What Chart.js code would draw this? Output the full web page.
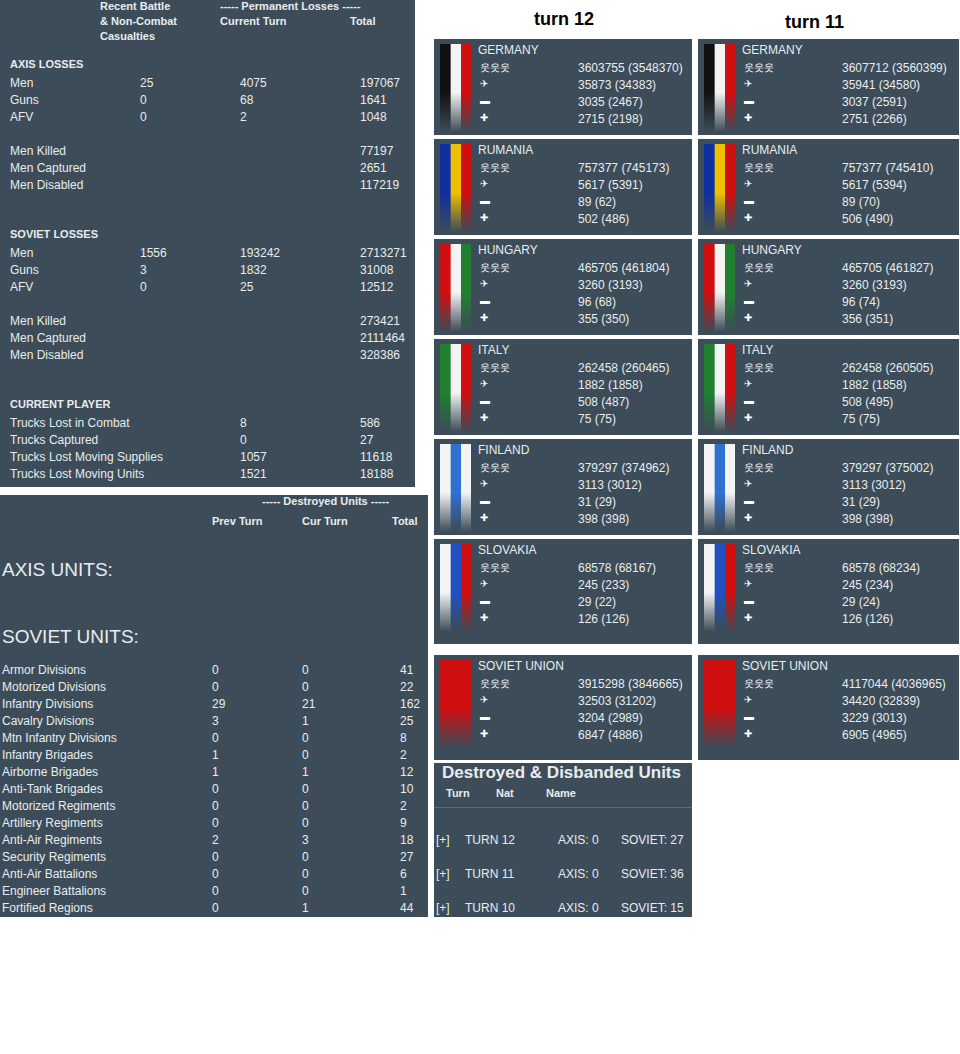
<!DOCTYPE html><html><head><meta charset="utf-8">
<script src="https://cdn.jsdelivr.net/npm/chart.js@4.4.0/dist/chart.umd.min.js"></script>
<style>
body{margin:0;width:960px;height:1054px;background:#fff;font-family:"Liberation Sans",Arial,sans-serif;position:relative;overflow:hidden}
.p{position:absolute;background:#3c4c58;color:#e8ecef;font-size:12px}
.t{position:absolute;white-space:nowrap}
.h{font-weight:bold;font-size:11px;color:#e8ecef}
.title{position:absolute;font-weight:bold;font-size:18px;color:#000}
.flag{position:absolute;width:31px;height:88px;-webkit-mask-image:linear-gradient(#000 55%,transparent);mask-image:linear-gradient(#000 55%,transparent)}
.ic{position:absolute;color:#fff}
</style></head><body>
<script>
const axisRows=[["Men",25,4075,197067],["Guns",0,68,1641],["AFV",0,2,1048]];
const axisCas=[["Men Killed",77197],["Men Captured",2651],["Men Disabled",117219]];
const sovRows=[["Men",1556,193242,2713271],["Guns",3,1832,31008],["AFV",0,25,12512]];
const sovCas=[["Men Killed",273421],["Men Captured",2111464],["Men Disabled",328386]];
const trucks=[["Trucks Lost in Combat",8,586],["Trucks Captured",0,27],["Trucks Lost Moving Supplies",1057,11618],["Trucks Lost Moving Units",1521,18188]];
const unitTypes=["Armor Divisions","Motorized Divisions","Infantry Divisions","Cavalry Divisions","Mtn Infantry Divisions","Infantry Brigades","Airborne Brigades","Anti-Tank Brigades","Motorized Regiments","Artillery Regiments","Anti-Air Regiments","Security Regiments","Anti-Air Battalions","Engineer Battalions","Fortified Regions"];
const unitPrev=[0,0,29,3,0,1,1,0,0,0,2,0,0,0,0];
const unitCur=[0,0,21,1,0,0,1,0,0,0,3,0,0,0,1];
const unitTotal=[41,22,162,25,8,2,12,10,2,9,18,27,6,1,44];
const nations=["GERMANY","RUMANIA","HUNGARY","ITALY","FINLAND","SLOVAKIA","SOVIET UNION"];
const flagColors=[["#111","#f4f4f4","#d01010"],["#1030a0","#f0c000","#d01010"],["#d01010","#f4f4f4","#208030"],["#208030","#f4f4f4","#d01010"],["#f4f4f4","#3070d0","#f4f4f4"],["#f4f4f4","#2050c0","#d01010"],["#d01010","#d01010","#d01010"]];
const turn12=[["3603755 (3548370)","35873 (34383)","3035 (2467)","2715 (2198)"],["757377 (745173)","5617 (5391)","89 (62)","502 (486)"],["465705 (461804)","3260 (3193)","96 (68)","355 (350)"],["262458 (260465)","1882 (1858)","508 (487)","75 (75)"],["379297 (374962)","3113 (3012)","31 (29)","398 (398)"],["68578 (68167)","245 (233)","29 (22)","126 (126)"],["3915298 (3846665)","32503 (31202)","3204 (2989)","6847 (4886)"]];
const turn11=[["3607712 (3560399)","35941 (34580)","3037 (2591)","2751 (2266)"],["757377 (745410)","5617 (5394)","89 (70)","506 (490)"],["465705 (461827)","3260 (3193)","96 (74)","356 (351)"],["262458 (260505)","1882 (1858)","508 (495)","75 (75)"],["379297 (375002)","3113 (3012)","31 (29)","398 (398)"],["68578 (68234)","245 (234)","29 (24)","126 (126)"],["4117044 (4036965)","34420 (32839)","3229 (3013)","6905 (4965)"]];
const disbTurns=["TURN 12","TURN 11","TURN 10"],disbAxis=[0,0,0],disbSov=[27,36,15];

function el(parent,cls,x,y,txt,extra){const d=document.createElement('div');d.className=cls;d.style.left=x+'px';d.style.top=y+'px';if(txt!==undefined)d.textContent=txt;if(extra)Object.assign(d.style,extra);parent.appendChild(d);return d;}
function panel(x,y,w,h){return el(document.body,'p',x,y,undefined,{width:w+'px',height:h+'px'});}
let P=panel(0,0,415,487);
el(P,'t h',100,0,"Recent Battle");el(P,'t h',100,15,"& Non-Combat");el(P,'t h',100,30,"Casualties");
el(P,'t h',220,0,"----- Permanent Losses -----");el(P,'t h',220,15,"Current Turn");el(P,'t h',350,15,"Total");
el(P,'t h',10,58,"AXIS LOSSES");
axisRows.forEach((r,i)=>{let y=76+i*17;el(P,'t',10,y,r[0]);el(P,'t',140,y,r[1]);el(P,'t',240,y,r[2]);el(P,'t',360,y,r[3]);});
axisCas.forEach((r,i)=>{let y=144+i*17;el(P,'t',10,y,r[0]);el(P,'t',360,y,r[1]);});
el(P,'t h',10,228,"SOVIET LOSSES");
sovRows.forEach((r,i)=>{let y=246+i*17;el(P,'t',10,y,r[0]);el(P,'t',140,y,r[1]);el(P,'t',240,y,r[2]);el(P,'t',360,y,r[3]);});
sovCas.forEach((r,i)=>{let y=314+i*17;el(P,'t',10,y,r[0]);el(P,'t',360,y,r[1]);});
el(P,'t h',10,398,"CURRENT PLAYER");
trucks.forEach((r,i)=>{let y=416+i*17;el(P,'t',10,y,r[0]);el(P,'t',240,y,r[1]);el(P,'t',360,y,r[2]);});
P=panel(0,495,428,422);
el(P,'t h',262,0,"----- Destroyed Units -----");
el(P,'t h',212,20,"Prev Turn");el(P,'t h',302,20,"Cur Turn");el(P,'t h',392,20,"Total");
el(P,'t',2,64,"AXIS UNITS:",{fontSize:'19px'});el(P,'t',2,131,"SOVIET UNITS:",{fontSize:'19px'});
unitTypes.forEach((u,i)=>{let y=168+i*17;el(P,'t',2,y,u);el(P,'t',212,y,unitPrev[i]);el(P,'t',302,y,unitCur[i]);el(P,'t',400,y,unitTotal[i]);});
el(document.body,'title',534,9,"turn 12");el(document.body,'title',785,12,"turn 11");
function col(x,w,data){
  nations.forEach((n,i)=>{
    let y=i<6?39+i*100:655;let h=i>=5?105:96;
    let q=panel(x,y,w,h);
    let fd=el(q,'flag',6,5);
    let cv=document.createElement('canvas');cv.width=31;cv.height=88;fd.appendChild(cv);
    new Chart(cv,{type:'bar',data:{labels:[''],datasets:flagColors[i].map(c=>({data:[1],backgroundColor:c,borderWidth:0,barPercentage:1,categoryPercentage:1}))},
      options:{indexAxis:'y',animation:false,responsive:false,maintainAspectRatio:false,plugins:{legend:{display:false},tooltip:{enabled:false}},
      scales:{x:{stacked:true,display:false,min:0,max:3},y:{stacked:true,display:false}},layout:{padding:0}}});
    el(q,'t',44,4,n);
    ["웃웃웃","✈","▬","✚"].forEach((ic,k)=>{el(q,'ic',46,22+k*17,ic,{fontSize:'10px'});el(q,'t',144,22+k*17,data[i][k]);});
  });
}
col(434,258,turn12);col(698,261,turn11);
P=panel(434,763,258,154);
el(P,'t',8,0,"Destroyed & Disbanded Units",{fontSize:'17px',fontWeight:'bold'});
el(P,'t h',12,24,"Turn");el(P,'t h',62,24,"Nat");el(P,'t h',112,24,"Name");
el(P,'t',0,44,"",{width:'258px',borderTop:'1px solid #5a6a76'});
disbTurns.forEach((t,i)=>{let y=70+i*34;el(P,'t',2,y,"[+]");el(P,'t',31,y,t);el(P,'t',124,y,"AXIS: "+disbAxis[i]);el(P,'t',187,y,"SOVIET: "+disbSov[i]);});
</script></body></html>
